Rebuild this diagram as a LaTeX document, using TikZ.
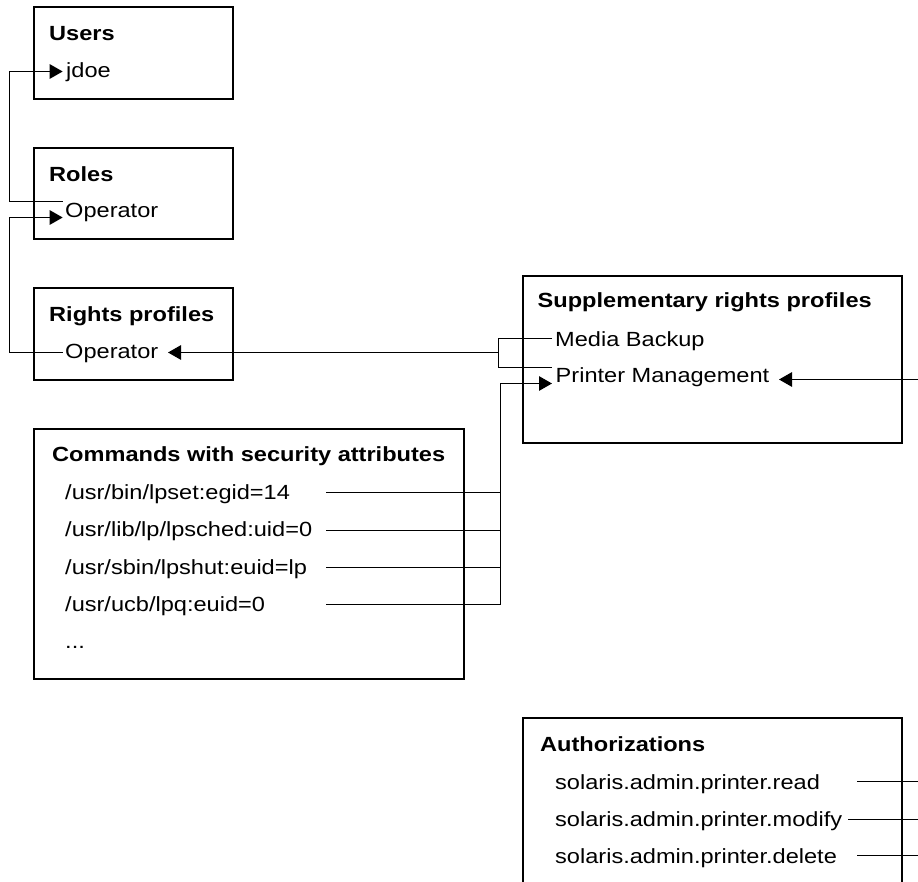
\documentclass[tikz,border=0pt]{standalone}
\usepackage{fontspec}
\setmainfont{Liberation Sans}[FakeStretch=1.15]
\usetikzlibrary{arrows.meta}
\begin{document}
\begin{tikzpicture}[x=1pt,y=-1pt,
  box/.style={draw, line width=1.4pt, inner sep=0pt, outer sep=0pt, anchor=north west},
  ttl/.style={font=\fontsize{20.5}{24}\selectfont\bfseries, anchor=base west, inner sep=0pt},
  itm/.style={font=\fontsize{20.5}{24}\selectfont, anchor=base west, inner sep=0pt},
  wire/.style={line width=1.2pt},
  arr/.style={wire, -{Triangle[length=13pt,width=14.5pt]}}]
\useasboundingbox (0,0) rectangle (918,882);
\clip (0,0) rectangle (918,882);

% boxes
\node[box, minimum width=199pt, minimum height=92pt] (users) at (34,7) {};
\node[box, minimum width=199pt, minimum height=91pt] (roles) at (34,148) {};
\node[box, minimum width=199pt, minimum height=92pt] (rights) at (34,288) {};
\node[box, minimum width=379pt, minimum height=167pt] (supp) at (523,276) {};
\node[box, minimum width=430pt, minimum height=250pt] (cmds) at (34,429) {};
\node[box, minimum width=379pt, minimum height=220pt] (auth) at (523,718) {};

% texts
\node[ttl] (usersT) at (49,40.7) {Users};
\node[itm] (jdoe) at (66,77.3) {jdoe};
\node[ttl] (rolesT) at (49,181.5) {Roles};
\node[itm] (roleOp) at (65,218) {Operator};
\node[ttl] (rightsT) at (49,322) {Rights profiles};
\node[itm] (rightOp) at (65,359) {Operator};
\node[ttl] (suppT) at (537.5,307.3) {Supplementary rights profiles};
\node[itm] (media) at (555,346.7) {Media Backup};
\node[itm] (printer) at (555.5,382.3) {Printer Management};
\node[ttl] (cmdT) at (52,461.7) {Commands with security attributes};
\node[itm] (c1) at (65,499) {/usr/bin/lpset:egid=14};
\node[itm] (c2) at (65,536.5) {/usr/lib/lp/lpsched:uid=0};
\node[itm] (c3) at (65,574) {/usr/sbin/lpshut:euid=lp};
\node[itm] (c4) at (65,611.5) {/usr/ucb/lpq:euid=0};
\node[itm] (c5) at (65,648.5) {...};
\node[ttl] (authT) at (540,751) {Authorizations};
\node[itm] (a1) at (555,789.3) {solaris.admin.printer.read};
\node[itm] (a2) at (555,826.5) {solaris.admin.printer.modify};
\node[itm] (a3) at (555,863.5) {solaris.admin.printer.delete};

% connector points
\coordinate (busL) at (9.5,0);
\coordinate (busM) at (498.5,0);
\coordinate (busC) at (500.5,0);
\coordinate (rEdge) at (918,0);
\coordinate (jdoeIn) at (62.7,71.5);
\coordinate (roleOut) at (62.7,201.5);
\coordinate (roleIn) at (62.7,217.5);
\coordinate (rightOut) at (62.7,352.5);
\coordinate (rightIn) at (168,352.5);
\coordinate (mediaOut) at (552,338.5);
\coordinate (printOut) at (552,367.5);
\coordinate (printIn) at (552,383.5);
\coordinate (printInR) at (779,379.5);
\coordinate (c1o) at (326,492.5);
\coordinate (c2o) at (326,530.5);
\coordinate (c3o) at (326,567.5);
\coordinate (c4o) at (326,604.5);
\coordinate (a1o) at (857,781.5);
\coordinate (a2o) at (848,819.5);
\coordinate (a3o) at (857,855.5);

% connectors
\draw[arr] (roleOut) -- (roleOut -| busL) |- (jdoeIn);
\draw[arr] (rightOut) -- (rightOut -| busL) |- (roleIn);
\draw[wire] (mediaOut) -- (mediaOut -| busM) -- (printOut -| busM) -- (printOut);
\draw[arr] (busM |- rightIn) -- (rightIn);
\draw[wire] (c1o) -- (c1o -| busC);
\draw[wire] (c2o) -- (c2o -| busC);
\draw[wire] (c3o) -- (c3o -| busC);
\draw[arr] (c4o) -- (c4o -| busC) |- (printIn);
\draw[arr] (printInR -| rEdge) -- (printInR);
\draw[wire] (a1o) -- (a1o -| rEdge);
\draw[wire] (a2o) -- (a2o -| rEdge);
\draw[wire] (a3o) -- (a3o -| rEdge);
\end{tikzpicture}
\end{document}
